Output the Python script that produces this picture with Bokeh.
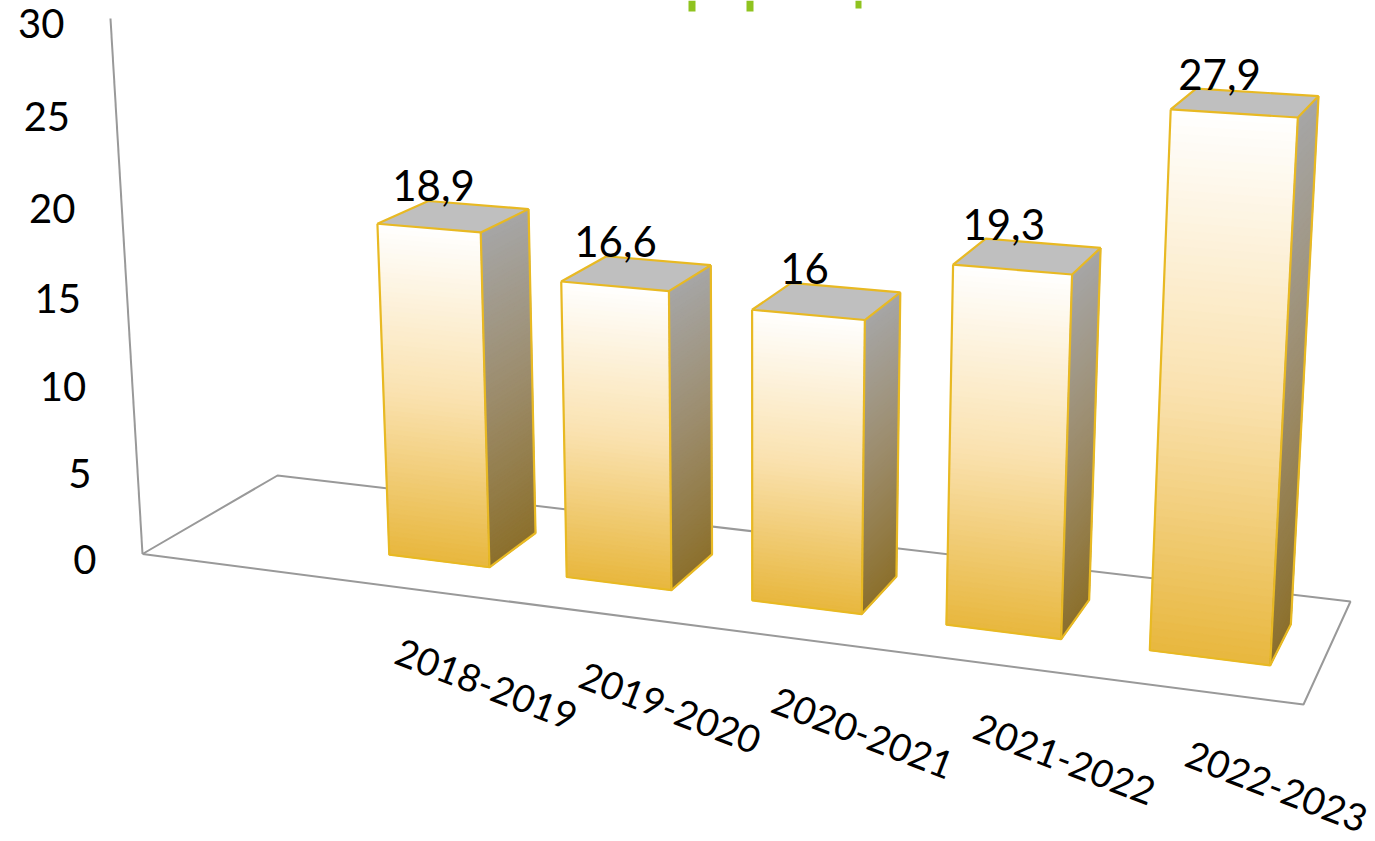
from bokeh.plotting import figure, ColumnDataSource
from bokeh.models import Range1d
from bokeh.core.properties import value
from bokeh.embed import file_html
from bokeh.resources import INLINE

categories = ["2018-2019", "2019-2020", "2020-2021", "2021-2022", "2022-2023"]
values = [18.9, 16.6, 16.0, 19.3, 27.9]
value_labels = ["18,9", "16,6", "16", "19,3", "27,9"]
y_ticks = [0, 5, 10, 15, 20, 25, 30]

FONT = "Lato"
W, H = 1375, 841
# camera: floor corners on the page and the vertical vanishing point
A, B, C, D = (142, 553.5), (1303, 704), (1350, 601), (277, 475)
VP = (756, 10825)
AXIS_TOP = (110, 18)
V_MAX = 30.0
U_PAD_L, U_PAD_R, V_FRONT, V_BACK = 0.205, 0.225, 0.30, 0.705
SLOTS = 6   # the axis holds one empty slot before the first category
FIRST = 1

def solve_cam():
    dx1, dx2, sx = B[0]-C[0], D[0]-C[0], A[0]-B[0]+C[0]-D[0]
    dy1, dy2, sy = B[1]-C[1], D[1]-C[1], A[1]-B[1]+C[1]-D[1]
    den = dx1*dy2-dx2*dy1
    g = (sx*dy2-dx2*sy)/den
    h = (dx1*sy-sx*dy1)/den
    a, b, c = B[0]-A[0]+g*B[0], D[0]-A[0]+h*D[0], A[0]
    d, e, f = B[1]-A[1]+g*B[1], D[1]-A[1]+h*D[1], A[1]
    k = (AXIS_TOP[1]-A[1])/(V_MAX*(VP[1]-AXIS_TOP[1]))
    return a, b, c, d, e, f, g, h, k

a, b, c, d, e, f, g, h_, k = solve_cam()

def proj(u, v, z):
    w = g*u + h_*v + 1 + z*k
    return ((a*u + b*v + c + z*k*VP[0])/w, (d*u + e*v + f + z*k*VP[1])/w)

def mix(c1, c2, t):
    return tuple(c1[i] + (c2[i]-c1[i])*t for i in range(3))

def hexc(col):
    return "#%02x%02x%02x" % tuple(int(round(x)) for x in col)

FRONT = [(0.0, (255, 255, 255)), (0.5, (250, 226, 176)), (1.0, (232, 183, 62))]
SIDE = [(0.0, (166, 166, 166)), (0.5, (156, 140, 108)), (1.0, (140, 112, 44))]

def ramp(stops, t):
    for (t0, c0), (t1, c1) in zip(stops, stops[1:]):
        if t <= t1:
            return hexc(mix(c0, c1, (t-t0)/(t1-t0)))
    return hexc(stops[-1][1])

p = figure(width=W, height=H, x_range=Range1d(0, W), y_range=Range1d(H, 0),
           x_axis_location=None, y_axis_location=None, toolbar_location=None,
           output_backend="svg", min_border=0, outline_line_color=None)
p.grid.visible = False
p.styles = {"position": "absolute", "left": "0px", "top": "0px"}

# floor and wall lines
GREY = "#999999"
floor = [proj(0, 0, 0), proj(1, 0, 0), proj(1, 1, 0), proj(0, 1, 0), proj(0, 0, 0)]
p.line([q[0] for q in floor], [q[1] for q in floor], line_color=GREY, line_width=2)
wall = [proj(0, 0, 0), proj(0, 0, V_MAX)]
p.line([q[0] for q in wall], [q[1] for q in wall], line_color=GREY, line_width=2)

# cropped remains of the title at the top edge
GREEN_X = [688, 746, 855]
GREEN_W = [7, 7, 6]
GREEN_B = [11, 11, 8]
p.quad(left=GREEN_X, right=[x+w for x, w in zip(GREEN_X, GREEN_W)], top=[0]*3, bottom=GREEN_B,
       fill_color="#8FC31F", line_color=None)

N = 70
OUT = "#E8B923"
for i, val in enumerate(values):
    u0 = (i + FIRST + U_PAD_L)/SLOTS
    u1 = (i + FIRST + 1 - U_PAD_R)/SLOTS
    xs, ys, cols = [], [], []
    for j in range(N):
        t0, t1 = j/N, (j+1)/N
        z0, z1 = val*(1-t0), val*(1-t1)
        col = ramp(FRONT, (t0+t1)/2)
        q = [proj(u0, V_FRONT, z0), proj(u1, V_FRONT, z0), proj(u1, V_FRONT, z1), proj(u0, V_FRONT, z1)]
        xs.append([r[0] for r in q]); ys.append([r[1] for r in q]); cols.append(col)
        col = ramp(SIDE, (t0+t1)/2)
        q = [proj(u1, V_FRONT, z0), proj(u1, V_BACK, z0), proj(u1, V_BACK, z1), proj(u1, V_FRONT, z1)]
        xs.append([r[0] for r in q]); ys.append([r[1] for r in q]); cols.append(col)
    src = ColumnDataSource(dict(xs=xs, ys=ys, c=cols))
    p.patches("xs", "ys", source=src, fill_color="c", line_color="c", line_width=1.3)
    top = [proj(u0, V_FRONT, val), proj(u1, V_FRONT, val), proj(u1, V_BACK, val), proj(u0, V_BACK, val)]
    p.patch([r[0] for r in top], [r[1] for r in top], fill_color="#BFBFBF", line_color=OUT, line_width=2.2)
    for seq in ([proj(u0, V_FRONT, val), proj(u0, V_FRONT, 0), proj(u1, V_FRONT, 0), proj(u1, V_BACK, 0), proj(u1, V_BACK, val)],
                [proj(u1, V_FRONT, val), proj(u1, V_FRONT, 0)]):
        p.line([r[0] for r in seq], [r[1] for r in seq], line_color=OUT, line_width=2.2)

# value labels
for i, (val, lab) in enumerate(zip(values, value_labels)):
    x, y = proj((i + FIRST + U_PAD_L + 0.03 + 0.02*i)/SLOTS, V_BACK, val)
    p.text([x], [y - 16], text=[lab], text_font=value(FONT), text_font_size="42px", text_color="#000000",
           text_align="center", text_baseline="middle")

# category labels
for i, lab in enumerate(categories):
    x, y = proj((i + FIRST + 0.5)/SLOTS, 0, 0)
    p.text([x + 83], [y + 96], text=[lab], text_font=value(FONT), text_font_size="38px", text_color="#000000",
           text_align="center", text_baseline="middle", angle=[-21], angle_units="deg")

# value axis labels
for t in y_ticks:
    x, y = proj(0, 0, t)
    p.text([x - 46], [y + 5], text=[str(t)], text_font=value(FONT), text_font_size="40px", text_color="#000000",
           text_align="right", text_baseline="middle")

open("out.html", "w").write(file_html(p, INLINE))
